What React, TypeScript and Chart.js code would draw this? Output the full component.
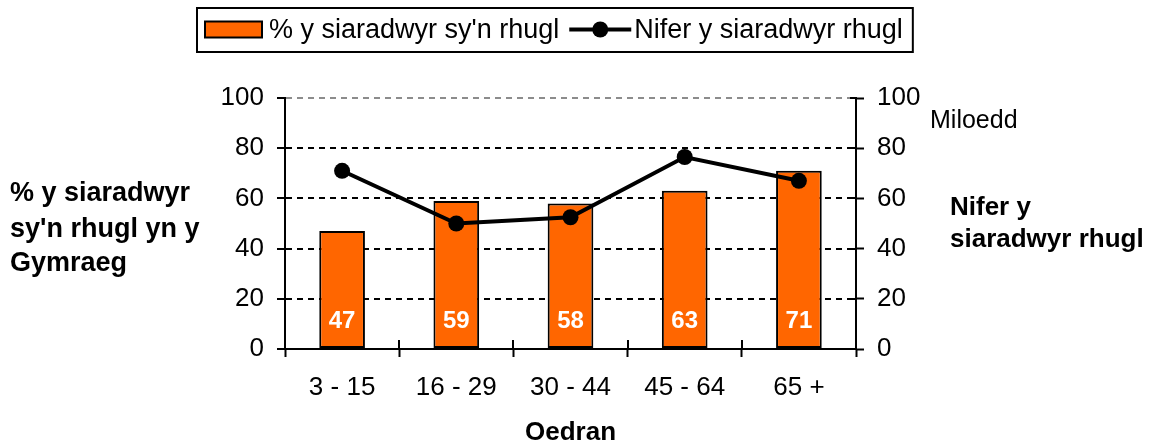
import { useEffect, useRef } from 'react';
import { Chart, registerables } from 'chart.js';

Chart.register(...registerables);

const categories = ['3 - 15', '16 - 29', '30 - 44', '45 - 64', '65 +'];
const percentFluent = [47, 59, 58, 63, 71];
const numberFluent = [71, 50, 52.5, 76.5, 67];
const axisTicks = [0, 20, 40, 60, 80, 100];
const barLabel = "% y siaradwyr sy'n rhugl";
const lineLabel = 'Nifer y siaradwyr rhugl';
const leftTitle = ['% y siaradwyr', "sy'n rhugl yn y", 'Gymraeg'];
const rightTitle = ['Nifer y', 'siaradwyr rhugl'];
const rightUnit = 'Miloedd';
const xTitle = 'Oedran';

const FONT = '"Liberation Sans", Arial, Helvetica, sans-serif';
const ORANGE = '#FF6600';

const decor = {
  id: 'decor',
  afterDatasetsDraw(chart: any) {
    const ctx = chart.ctx;
    const y = chart.scales.y;
    const meta = chart.getDatasetMeta(0);
    ctx.save();
    ctx.fillStyle = '#fff';
    ctx.font = `bold 24px ${FONT}`;
    ctx.textAlign = 'center';
    ctx.textBaseline = 'middle';
    meta.data.forEach((bar: any, i: number) => {
      ctx.fillText(String(percentFluent[i]), bar.x, y.getPixelForValue(0) - 28);
    });
    ctx.restore();
  },
  afterDraw(chart: any) {
    const ctx = chart.ctx;
    const area = chart.chartArea;
    const xs = chart.scales.x;
    const y1 = chart.scales.y1;
    ctx.save();
    // crossing ticks
    ctx.strokeStyle = '#000';
    ctx.lineWidth = 2;
    ctx.beginPath();
    for (let i = 0; i <= categories.length; i++) {
      const px = Math.round(xs.getPixelForValue(i - 0.5));
      ctx.moveTo(px, area.bottom - 9);
      ctx.lineTo(px, area.bottom);
    }
    axisTicks.forEach((v) => {
      const py = Math.round(y1.getPixelForValue(v));
      ctx.moveTo(area.right - 6, py);
      ctx.lineTo(area.right, py);
    });
    ctx.stroke();

    // legend
    ctx.font = `27px ${FONT}`;
    const w1 = ctx.measureText(barLabel).width;
    const w2 = ctx.measureText(lineLabel).width;
    const top = 8;
    const h = 44;
    const left = 197;
    const cy = 29.5;
    const boxX = left + 8;
    const boxW = 57;
    const boxH = 16;
    const t1 = boxX + boxW + 7;
    const symX = t1 + w1 + 10;
    const symW = 62;
    const t2 = symX + symW + 3;
    const right = t2 + w2 + 10;
    ctx.fillStyle = '#fff';
    ctx.fillRect(left, top, right - left, h);
    ctx.strokeStyle = '#000';
    ctx.lineWidth = 2;
    ctx.strokeRect(left, top, right - left, h);
    ctx.fillStyle = ORANGE;
    ctx.fillRect(boxX, cy - boxH / 2, boxW, boxH);
    ctx.strokeRect(boxX, cy - boxH / 2, boxW, boxH);
    ctx.fillStyle = '#000';
    ctx.textAlign = 'left';
    ctx.textBaseline = 'middle';
    ctx.fillText(barLabel, t1, cy + 1);
    ctx.fillText(lineLabel, t2, cy + 1);
    ctx.lineWidth = 4;
    ctx.beginPath();
    ctx.moveTo(symX, cy);
    ctx.lineTo(symX + symW, cy);
    ctx.stroke();
    ctx.beginPath();
    ctx.arc(symX + symW / 2, cy, 8, 0, Math.PI * 2);
    ctx.fill();

    // titles
    ctx.textBaseline = 'alphabetic';
    ctx.textAlign = 'left';
    ctx.font = `bold 27px ${FONT}`;
    [201, 237, 271].forEach((by, i) => ctx.fillText(leftTitle[i], 10, by));
    ctx.font = `bold 26px ${FONT}`;
    [215, 247].forEach((by, i) => ctx.fillText(rightTitle[i], 950, by));
    ctx.font = `25px ${FONT}`;
    ctx.fillText(rightUnit, 930, 128);
    ctx.font = `bold 26px ${FONT}`;
    ctx.textAlign = 'center';
    ctx.fillText(xTitle, (area.left + area.right) / 2, 440);
    ctx.restore();
  },
};

export default function App() {
  const ref = useRef<HTMLCanvasElement>(null);
  useEffect(() => {
    const tickFont = { family: FONT, size: 26 };
    const chart = new Chart(ref.current as HTMLCanvasElement, {
      type: 'bar',
      data: {
        labels: categories,
        datasets: [
          {
            type: 'bar',
            label: barLabel,
            data: percentFluent,
            yAxisID: 'y',
            backgroundColor: ORANGE,
            borderColor: '#000',
            borderWidth: 2,
            borderSkipped: false,
            barPercentage: 0.4,
            categoryPercentage: 1,
            order: 1,
          } as any,
          {
            type: 'line',
            label: lineLabel,
            data: numberFluent,
            yAxisID: 'y1',
            borderColor: '#000',
            backgroundColor: '#000',
            borderWidth: 4,
            pointRadius: 8,
            pointBackgroundColor: '#000',
            pointBorderColor: '#000',
            pointBorderWidth: 0,
            tension: 0,
            order: 0,
          } as any,
        ],
      },
      options: {
        responsive: false,
        animation: false,
        devicePixelRatio: 1,
        layout: { padding: { top: 98, left: 0, right: 0, bottom: 0 } },
        plugins: {
          legend: { display: false },
          tooltip: { enabled: false },
          title: { display: false },
        },
        scales: {
          x: {
            offset: true,
            grid: {
              offset: true,
              drawOnChartArea: false,
              drawTicks: true,
              tickLength: 8,
              tickWidth: 2,
              tickColor: '#000',
            },
            border: { display: true, color: '#000', width: 2 },
            ticks: { color: '#000', font: tickFont, padding: 15, maxRotation: 0, autoSkip: false },
            afterFit: (s: any) => {
              s.height = 95;
            },
          },
          y: {
            position: 'left',
            min: 0,
            max: 100,
            afterBuildTicks: (s: any) => {
              s.ticks = axisTicks.map((v) => ({ value: v }));
            },
            ticks: { color: '#000', font: tickFont, padding: 13 },
            grid: {
              color: (c: any) =>
                c.tick && c.tick.value === 100 ? '#8c8c8c' : c.tick && c.tick.value === 0 ? 'rgba(0,0,0,0)' : '#000',
              lineWidth: 2,
              tickLength: 8,
              tickWidth: 2,
              tickColor: '#000',
              tickBorderDash: [],
            },
            border: { display: true, color: '#000', width: 2, dash: [6, 5] },
            afterFit: (s: any) => {
              s.width = 285;
            },
          },
          y1: {
            position: 'right',
            min: 0,
            max: 100,
            afterBuildTicks: (s: any) => {
              s.ticks = axisTicks.map((v) => ({ value: v }));
            },
            ticks: { color: '#000', font: tickFont, padding: 13 },
            grid: {
              drawOnChartArea: false,
              tickLength: 8,
              tickWidth: 2,
              tickColor: '#000',
            },
            border: { display: true, color: '#000', width: 2 },
            afterFit: (s: any) => {
              s.width = 301;
            },
          },
        },
      } as any,
      plugins: [decor],
    });
    return () => chart.destroy();
  }, []);
  return (
    <div style={{ position: 'absolute', left: 0, top: 0, width: 1157, height: 444, background: '#fff' }}>
      <canvas ref={ref} width={1157} height={444} style={{ display: 'block' }} />
    </div>
  );
}
